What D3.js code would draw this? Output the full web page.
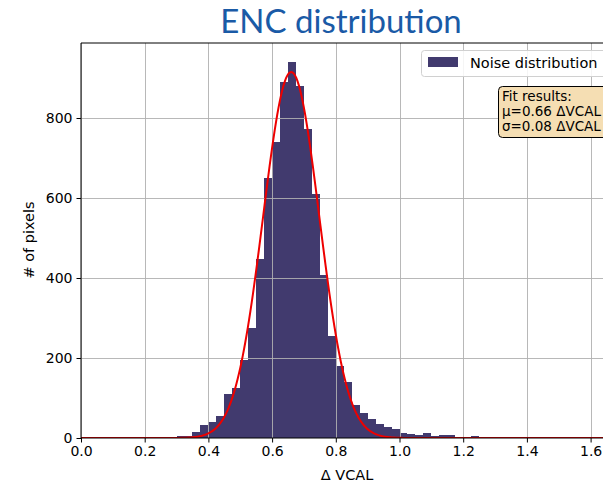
<!DOCTYPE html>
<html>
<head>
<meta charset="utf-8">
<script src="https://cdn.jsdelivr.net/npm/d3@7"></script>
<style>
  html, body { margin: 0; padding: 0; background: #fff; }
  svg { display: block; }
</style>
</head>
<body>
<svg id="chart" width="603" height="483"></svg>
<script>
// ---- Data ----
const binWidth = 0.025;
const binStarts = [0.25, 0.275, 0.3, 0.325, 0.35, 0.375, 0.4, 0.425, 0.45, 0.475,
  0.5, 0.525, 0.55, 0.575, 0.6, 0.625, 0.65, 0.675, 0.7, 0.725,
  0.75, 0.775, 0.8, 0.825, 0.85, 0.875, 0.9, 0.925, 0.95, 0.975,
  1.0, 1.025, 1.05, 1.075, 1.1, 1.125, 1.15, 1.175, 1.2, 1.225, 1.25, 1.35];
const counts = [1, 3, 5, 5, 15, 32, 40, 56, 110, 124,
  195, 275, 447, 651, 741, 889, 940, 881, 772, 610,
  407, 255, 180, 140, 82, 62, 47, 35, 27, 22,
  13, 10, 7, 13, 5, 7, 7, 1, 2, 5, 1, 2];
const fitMu = 0.66;
const fitSigma = 0.088;
const fitAmplitude = 915;
const xTicks = [0.0, 0.2, 0.4, 0.6, 0.8, 1.0, 1.2, 1.4, 1.6];
const yTicks = [0, 200, 400, 600, 800];
const fitText = ["Fit results:", "\u03bc=0.66 \u0394VCAL", "\u03c3=0.08 \u0394VCAL"];

// ---- Layout ----
const svg = d3.select("#chart");
const m = { left: 81, top: 43, bottom: 438 };
const x = d3.scaleLinear().domain([0, 1.7]).range([m.left, m.left + 1.7 * 318.5]);
const y = d3.scaleLinear().domain([0, 987.5]).range([m.bottom, m.top]);
const font = "DejaVu Sans, sans-serif";

svg.append("defs").append("clipPath").attr("id", "clip")
  .append("rect").attr("x", m.left).attr("y", m.top)
  .attr("width", 603 - m.left).attr("height", m.bottom - m.top);

const plot = svg.append("g").attr("clip-path", "url(#clip)");

// bars
plot.selectAll("rect.bar").data(binStarts).join("rect")
  .attr("class", "bar")
  .attr("x", (d) => x(d))
  .attr("width", (d) => x(d + binWidth) - x(d))
  .attr("y", (d, i) => y(counts[i]))
  .attr("height", (d, i) => y(0) - y(counts[i]))
  .attr("fill", "#413a6e")
  .attr("shape-rendering", "crispEdges");

// grid
plot.selectAll("line.gx").data(xTicks).join("line")
  .attr("x1", (d) => Math.round(x(d)) + 0.5).attr("x2", (d) => Math.round(x(d)) + 0.5)
  .attr("y1", m.top).attr("y2", m.bottom)
  .attr("stroke", "#b0b0b0").attr("stroke-width", 1).attr("stroke-opacity", 0.9);
plot.selectAll("line.gy").data(yTicks).join("line")
  .attr("x1", m.left).attr("x2", 603)
  .attr("y1", (d) => Math.round(y(d)) + 0.5).attr("y2", (d) => Math.round(y(d)) + 0.5)
  .attr("stroke", "#b0b0b0").attr("stroke-width", 1).attr("stroke-opacity", 0.9);

// fit curve
const curveX = d3.range(0, 1.7001, 0.004);
const line = d3.line()
  .x((d) => x(d))
  .y((d) => y(fitAmplitude * Math.exp(-((d - fitMu) ** 2) / (2 * fitSigma ** 2))));
plot.append("path").datum(curveX)
  .attr("d", line).attr("fill", "none")
  .attr("stroke", "#ee0000").attr("stroke-width", 2);

// axes
const xAxis = d3.axisBottom(x).tickValues(xTicks).tickFormat(d3.format(".1f")).tickSize(4.5).tickPadding(4);
const gx = svg.append("g").attr("transform", `translate(0,${m.bottom})`).call(xAxis);
const yAxis = d3.axisLeft(y).tickValues(yTicks).tickSize(4.5).tickPadding(4);
const gy = svg.append("g").attr("transform", `translate(${m.left},0)`).call(yAxis);
[gx, gy].forEach((g) => {
  g.select(".domain").remove();
  g.selectAll("line").attr("stroke", "#000").attr("stroke-width", 1);
  g.selectAll("text").attr("font-family", font).attr("font-size", 14).attr("fill", "#000");
});

// spines
svg.append("line").attr("x1", m.left).attr("x2", m.left).attr("y1", m.top).attr("y2", m.bottom)
  .attr("stroke", "#000").attr("stroke-width", 1);
svg.append("line").attr("x1", m.left).attr("x2", 603).attr("y1", m.bottom).attr("y2", m.bottom)
  .attr("stroke", "#000").attr("stroke-width", 1);
svg.append("line").attr("x1", m.left).attr("x2", 603).attr("y1", m.top).attr("y2", m.top)
  .attr("stroke", "#000").attr("stroke-width", 1);

// axis labels
svg.append("text").attr("x", 347).attr("y", 480).attr("text-anchor", "middle")
  .attr("font-family", font).attr("font-size", 14.5).text("\u0394 VCAL");
svg.append("text").attr("transform", "translate(34,240) rotate(-90)").attr("text-anchor", "middle")
  .attr("font-family", font).attr("font-size", 14.5).text("# of pixels");

// title
svg.append("text").attr("x", 341).attr("y", 33).attr("text-anchor", "middle")
  .attr("font-family", "Lato, Carlito, sans-serif").attr("font-size", 33)
  .attr("fill", "#1a5aa6").text("ENC distribution");

// legend
const lg = svg.append("g");
lg.append("rect").attr("x", 421.5).attr("y", 50.5).attr("width", 200).attr("height", 26)
  .attr("rx", 3).attr("fill", "#fff").attr("fill-opacity", 0.85).attr("stroke", "#d0d0d0");
lg.append("rect").attr("x", 428).attr("y", 57).attr("width", 30).attr("height", 10).attr("fill", "#413a6e");
lg.append("text").attr("x", 470).attr("y", 68).attr("font-family", font).attr("font-size", 14.5)
  .text("Noise distribution");

// fit results box
const fb = svg.append("g");
fb.append("rect").attr("x", 498.5).attr("y", 86.5).attr("width", 130).attr("height", 51)
  .attr("rx", 4).attr("fill", "#f5deb3").attr("stroke", "#000").attr("stroke-width", 1);
fb.selectAll("text").data(fitText).join("text")
  .attr("x", 502).attr("y", (d, i) => 101 + i * 15)
  .attr("font-family", font).attr("font-size", 13.5).text((d) => d);
</script>
</body>
</html>
